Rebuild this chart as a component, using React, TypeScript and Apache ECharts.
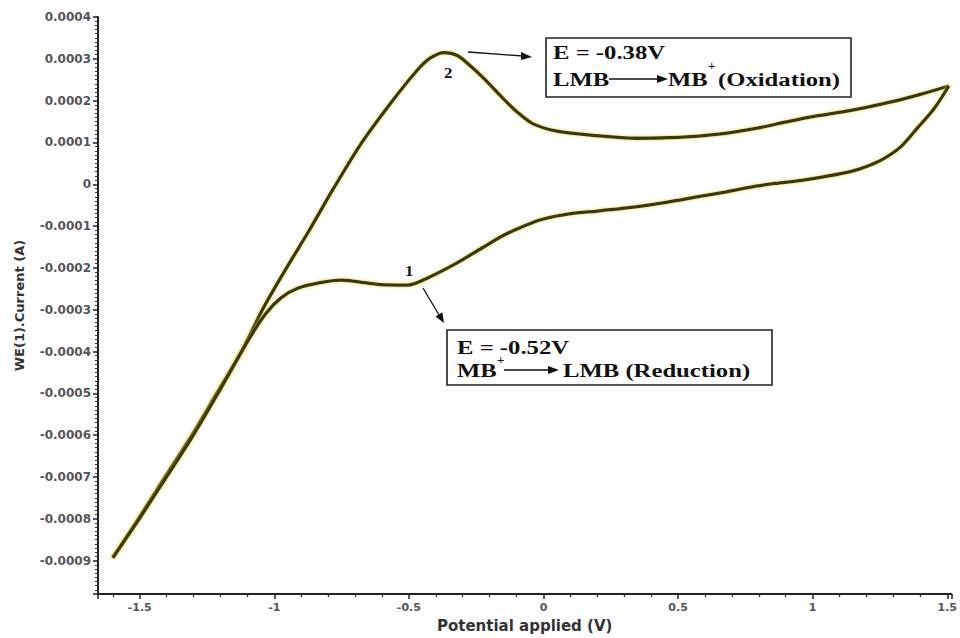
import React, { useEffect, useRef } from "react";
import * as echarts from "echarts";

// Anodic (upper) branch: potential (V) and current (A)
const upperV = [-1.60, -1.505, -1.406, -1.306, -1.214, -1.122, -1.04, -0.95, -0.87, -0.78, -0.68, -0.57, -0.47, -0.42, -0.369, -0.32, -0.27, -0.22, -0.16, -0.10, -0.04, 0.05, 0.2, 0.343, 0.5, 0.65, 0.8, 0.9, 1.0, 1.1, 1.2, 1.3, 1.4, 1.506];
const upperI = [-0.000893, -0.0008, -0.0007, -0.0006, -0.0005, -0.0004, -0.000295, -0.000195, -0.00011, -0.00001, 0.000095, 0.000192, 0.000272, 0.000302, 0.000315, 0.000308, 0.000282, 0.000252, 0.000212, 0.000174, 0.000145, 0.000127, 0.000116, 0.00011, 0.000112, 0.00012, 0.000135, 0.000149, 0.000162, 0.000172, 0.000184, 0.000198, 0.000215, 0.000235];

// Cathodic (lower) branch
const lowerV = [1.506, 1.45, 1.387, 1.328, 1.266, 1.203, 1.144, 1.05, 0.959, 0.86, 0.775, 0.68, 0.59, 0.45, 0.343, 0.2, 0.096, 0.0, -0.07, -0.148, -0.23, -0.321, -0.421, -0.505, -0.605, -0.70, -0.753, -0.83, -0.911, -0.974, -1.03, -1.096, -1.214, -1.306, -1.406, -1.505, -1.60];
const lowerI = [0.000235, 0.00018, 0.000133, 0.00009, 0.000062, 0.000043, 0.000031, 0.000019, 0.0000095, 0.000002, -0.000006, -0.000018, -0.000028, -0.000044, -0.000054, -0.000064, -0.000071, -0.000083, -0.000099, -0.000122, -0.000153, -0.000188, -0.000221, -0.000241, -0.00024, -0.000232, -0.000229, -0.000235, -0.000248, -0.000271, -0.000308, -0.000372, -0.000505, -0.000605, -0.000705, -0.000803, -0.000893];

const xMin = -1.655;
const xMax = 1.515;
const yMin = -0.00098;
const yMax = 0.0004;

const serif = '"Liberation Serif", "Times New Roman", serif';
const sans = '"DejaVu Sans", "Liberation Sans", sans-serif';

function txt(x: number, y: number, text: string, size: number, extra: any = {}) {
  return {
    type: "text",
    x,
    y,
    z: 110,
    scaleX: extra.scaleX ?? 1.3,
    style: {
      text,
      fontFamily: serif,
      fontSize: size,
      fontWeight: "bold",
      fill: "#111",
      verticalAlign: "middle",
      textAlign: "left",
    },
  };
}

export default function App() {
  const ref = useRef<HTMLDivElement>(null);
  useEffect(() => {
    if (!ref.current) return;
    const chart = echarts.init(ref.current, undefined, { renderer: "svg" });
    const upper = upperV.map((v, i) => [v, upperI[i]]);
    const lower = lowerV.map((v, i) => [v, lowerI[i]]);
    const lineStyle = {
      color: "#3a3810",
      width: 3.3,
      shadowColor: "rgba(215,205,60,0.9)",
      shadowBlur: 3,
    };
    chart.setOption({
      animation: false,
      backgroundColor: "#fff",
      grid: { left: 98, right: 3, top: 17, bottom: 42, containLabel: false },
      xAxis: {
        type: "value",
        min: xMin,
        max: xMax,
        splitNumber: 6,
        name: "Potential applied (V)",
        nameLocation: "middle",
        nameGap: 23,
        nameTextStyle: { fontFamily: sans, fontSize: 15, fontWeight: "bold", color: "#333" },
        axisLine: { show: true, onZero: false, lineStyle: { color: "#222", width: 2 } },
        axisTick: { show: true, inside: false, length: 5, lineStyle: { color: "#222", width: 1.5 } },
        minorTick: { show: true, splitNumber: 5, length: 3, lineStyle: { color: "#333", width: 1.3 } },
        splitLine: { show: false },
        axisLabel: {
          show: true,
          showMinLabel: false,
          showMaxLabel: false,
          margin: 8,
          fontFamily: sans,
          fontSize: 11,
          fontWeight: "bold",
          color: "#555",
          formatter: (v: number) => String(Math.round(v * 10) / 10),
        },
      },
      yAxis: {
        type: "value",
        min: yMin,
        max: yMax,
        splitNumber: 14,
        name: "WE(1).Current (A)",
        nameLocation: "middle",
        nameGap: 72,
        nameTextStyle: { fontFamily: sans, fontSize: 13, fontWeight: "bold", color: "#333" },
        axisLine: { show: true, onZero: false, lineStyle: { color: "#222", width: 2 } },
        axisTick: { show: true, inside: false, length: 5, lineStyle: { color: "#222", width: 1.5 } },
        minorTick: { show: true, splitNumber: 10, length: 3, lineStyle: { color: "#333", width: 1 } },
        splitLine: { show: false },
        axisLabel: {
          show: true,
          showMinLabel: false,
          margin: 7,
          fontFamily: sans,
          fontSize: 12,
          fontWeight: "bold",
          color: "#555",
          formatter: (v: number) => (Math.abs(v) < 1e-12 ? "0" : v.toFixed(4)),
        },
      },
      series: [
        { type: "line", data: upper, smooth: 0.3, showSymbol: false, lineStyle, z: 3 },
        { type: "line", data: lower, smooth: 0.3, showSymbol: false, lineStyle, z: 3 },
      ],
      graphic: [
        // Box 1 (oxidation)
        { type: "rect", z: 100, shape: { x: 546, y: 38, width: 305, height: 59 }, style: { fill: "#fff", stroke: "#222", lineWidth: 1.6 } },
        txt(553, 53, "E = -0.38V", 19),
        txt(553, 80, "LMB", 19),
        { type: "line", z: 110, shape: { x1: 609, y1: 79, x2: 660, y2: 79 }, style: { stroke: "#111", lineWidth: 1.3 } },
        { type: "polygon", z: 110, shape: { points: [[657, 75], [668, 79], [657, 83]] }, style: { fill: "#111" } },
        txt(668, 80, "MB", 19),
        txt(708, 65, "+", 13, { scaleX: 1 }),
        txt(718, 80, "(Oxidation)", 19),
        // Box 2 (reduction)
        { type: "rect", z: 100, shape: { x: 447, y: 330, width: 325, height: 55 }, style: { fill: "#fff", stroke: "#222", lineWidth: 1.6 } },
        txt(457, 348, "E = -0.52V", 19),
        txt(457, 371, "MB", 19),
        txt(497, 359, "+", 13, { scaleX: 1 }),
        { type: "line", z: 110, shape: { x1: 504, y1: 370, x2: 550, y2: 370 }, style: { stroke: "#111", lineWidth: 1.3 } },
        { type: "polygon", z: 110, shape: { points: [[548, 366], [559, 370], [548, 374]] }, style: { fill: "#111" } },
        txt(563, 371, "LMB (Reduction)", 19),
        // peak labels and arrows
        txt(444, 73, "2", 14, { scaleX: 1.2 }),
        txt(405, 271, "1", 14, { scaleX: 1.2 }),
        { type: "line", z: 110, shape: { x1: 468, y1: 52, x2: 523, y2: 56 }, style: { stroke: "#111", lineWidth: 1.3 } },
        { type: "polygon", z: 110, shape: { points: [[521, 52], [532, 57], [521, 60]] }, style: { fill: "#111" } },
        { type: "line", z: 110, shape: { x1: 423, y1: 288, x2: 439, y2: 315 }, style: { stroke: "#111", lineWidth: 1.3 } },
        { type: "polygon", z: 110, shape: { points: [[444, 323], [435.5, 316.5], [442.3, 312.3]] }, style: { fill: "#111" } },
      ],
    });
    return () => chart.dispose();
  }, []);
  return (
    <div
      ref={ref}
      style={{ position: "fixed", left: 0, top: 0, width: 960, height: 638, background: "#fff" }}
    />
  );
}
